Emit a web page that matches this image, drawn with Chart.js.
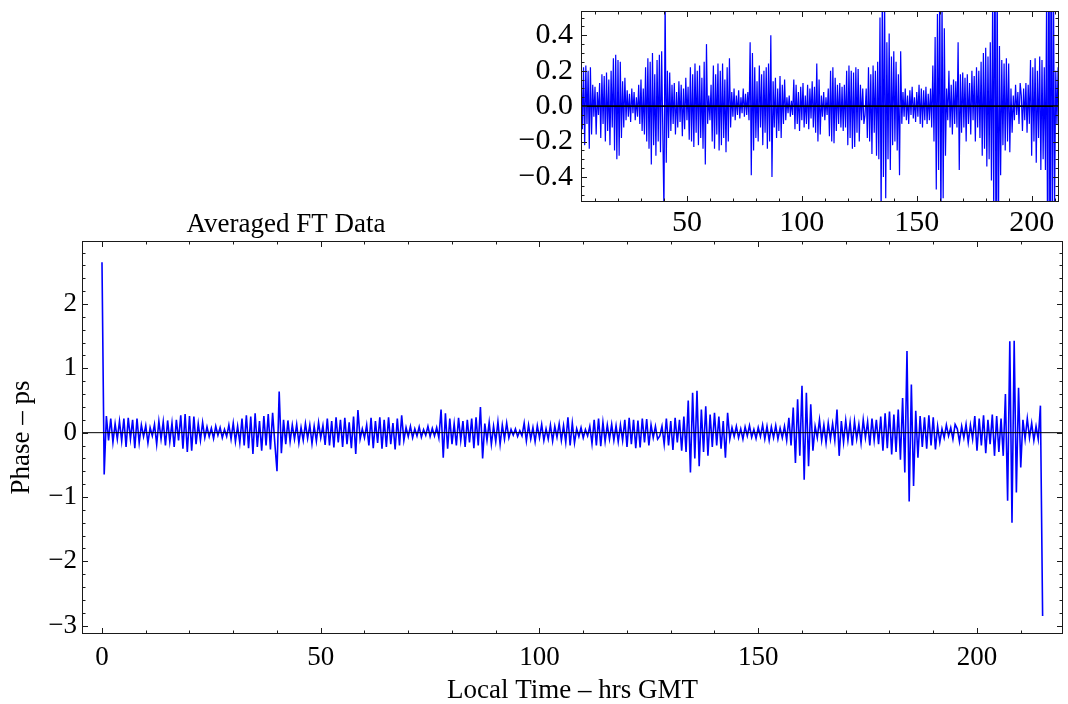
<!DOCTYPE html>
<html>
<head>
<meta charset="utf-8">
<script src="https://cdn.jsdelivr.net/npm/chart.js@4.4.1/dist/chart.umd.min.js"></script>
<style>
  html, body { margin: 0; padding: 0; background: #ffffff; width: 1068px; height: 704px; overflow: hidden; }
  #main  { position: absolute; left: 0; top: 0; }
  #inset { position: absolute; left: 480px; top: 0; }
</style>
</head>
<body>
<canvas id="main" width="1068" height="704"></canvas>
<canvas id="inset" width="588" height="240"></canvas>
<script>
// ---- Data: averaged FT phase (ps), sampled every half hour from hour 0 ----
const startHour = 0;
const stepHours = 0.5;

const phaseDay1 = [
  2.65,-0.65, 0.26,-0.12, 0.22,-0.15, 0.14,-0.10, 0.18,-0.13, 0.22,-0.22,
  0.23,-0.10, 0.20,-0.24, 0.22,-0.16, 0.12,-0.06, 0.11,-0.16, 0.08,-0.05,
  0.13,-0.18, 0.18,-0.10, 0.17,-0.20, 0.19,-0.14, 0.15,-0.22, 0.20,-0.12,
  0.27,-0.25, 0.29,-0.30, 0.26,-0.28, 0.25,-0.18, 0.14,-0.12, 0.16,-0.08
];
const phaseDay2 = [
  0.09,-0.06, 0.07,-0.09, 0.10,-0.04, 0.08,-0.08, 0.05,-0.06, 0.12,-0.10,
  0.15,-0.14, 0.10,-0.16, 0.22,-0.20, 0.27,-0.24, 0.25,-0.33, 0.30,-0.22,
  0.18,-0.28, 0.26,-0.20, 0.29,-0.26, 0.31,-0.16, -0.60,0.64, -0.32,0.20,
  -0.18,0.19, -0.14,0.12, -0.10,0.13, -0.16,0.08, -0.12,0.14, -0.09,0.12
];
const phaseDay3 = [
  -0.17,0.10, -0.13,0.16, -0.08,0.11, -0.19,0.22, -0.20,0.18, -0.23,0.24,
  -0.15,0.20, -0.22,0.23, -0.18,0.16, -0.24,0.25, -0.33,0.35, -0.10,0.06,
  -0.08,0.12, -0.20,0.23, -0.24,0.18, -0.16,0.24, -0.25,0.20, -0.22,0.24,
  -0.18,0.15, -0.26,0.22, -0.20,0.27, -0.12,0.08, -0.06,0.10, -0.08,0.06
];
const phaseDay4 = [
  -0.05,0.09, -0.07,0.05, -0.04,0.10, -0.06,0.07, -0.05,0.08, -0.08,0.36,
  -0.39,0.30, -0.25,0.22, -0.18,0.14, -0.20,0.23, -0.12,0.18, -0.22,0.20,
  -0.15,0.22, -0.24,0.24, -0.20,0.40, -0.40,0.14, -0.12,0.16, -0.18,0.10,
  -0.14,0.17, -0.18,0.12, -0.10,0.15, -0.08,0.05, -0.04,0.06, -0.06,0.03
];
const phaseDay5 = [
  -0.05,0.15, -0.13,0.12, -0.10,0.08, -0.14,0.11, -0.08,0.13, -0.12,0.06,
  -0.10,0.12, -0.13,0.10, -0.07,0.14, -0.12,0.11, -0.15,0.24, -0.20,0.15,
  -0.16,0.06, -0.06,0.08, -0.08,0.05, -0.05,0.10, -0.17,0.20, -0.20,0.22,
  -0.21,0.16, -0.14,0.12, -0.10,0.13, -0.12,0.11, -0.14,0.12, -0.12,0.20
];
const phaseDay6 = [
  -0.22,0.23, -0.18,0.20, -0.24,0.19, -0.23,0.22, -0.15,0.21, -0.20,0.12,
  -0.08,0.10, -0.10,-0.05, 0.10,-0.18, 0.22,-0.20, 0.18,-0.27, 0.23,-0.15,
  0.20,-0.28, 0.25,-0.30, 0.50,-0.62, 0.62,-0.40, 0.65,-0.52, 0.36,-0.30,
  0.41,-0.36, 0.28,-0.22, 0.31,-0.20, 0.25,-0.25, 0.18,-0.39, 0.31,-0.10
];
const phaseDay7 = [
  0.08,-0.06, 0.10,-0.08, 0.06,-0.10, 0.09,-0.05, 0.11,-0.07, 0.05,-0.09,
  0.08,-0.06, 0.12,-0.10, 0.10,-0.12, 0.09,-0.08, 0.11,-0.10, 0.07,-0.08,
  0.10,-0.12, 0.23,-0.20, 0.39,-0.47, 0.52,-0.36, 0.73,-0.73, 0.62,-0.52,
  0.44,-0.28, 0.10,-0.08, 0.20,-0.12, 0.12,-0.16, 0.15,-0.10, 0.14,-0.12
];
const phaseDay8 = [
  0.36,-0.36, 0.18,-0.15, 0.19,-0.12, 0.16,-0.20, 0.18,-0.10, 0.13,-0.16,
  0.20,-0.08, 0.17,-0.20, 0.22,-0.12, 0.20,-0.18, 0.25,-0.28, 0.30,-0.24,
  0.33,-0.34, 0.28,-0.30, 0.36,-0.42, 0.54,-0.62, 1.27,-1.07, 0.75,-0.83,
  0.34,-0.39, 0.26,-0.22, 0.24,-0.25, 0.27,-0.20, 0.24,-0.26, 0.10,-0.15
];
const phaseDay9 = [
  0.06,-0.08, 0.12,-0.05, 0.08,-0.10, 0.13,0.06, -0.14,0.10, -0.08,0.13,
  -0.15,0.12, -0.10,0.26, -0.28,0.22, -0.20,0.27, -0.32,0.20, -0.18,0.28,
  -0.36,0.26, -0.30,0.22, -0.36,0.60, -1.06,1.42, -1.40,1.43, -0.93,0.70,
  -0.54,0.20, -0.10,0.22, -0.08,0.15, -0.12,0.10, -0.10,0.42, -2.85
];

// ---- Tick labels ----
const mainXTicks  = [0, 50, 100, 150, 200];
const mainYTicks  = [-3, -2, -1, 0, 1, 2];
const insetXTicks = [50, 100, 150, 200];
const insetYTicks = [-0.4, -0.2, 0, 0.2, 0.4];

const titleText  = 'Averaged FT Data';
const xTitleText = 'Local Time – hrs GMT';
const yTitleText = 'Phase – ps';

// ---- Build series ----
const phase = [].concat(phaseDay1, phaseDay2, phaseDay3, phaseDay4, phaseDay5,
                        phaseDay6, phaseDay7, phaseDay8, phaseDay9);
const points = phase.map((v, i) => ({ x: startHour + i * stepHours, y: v }));

function stepList(a, b, s) {
  const out = [];
  for (let v = a; v <= b + 1e-9; v += s) out.push(Math.round(v * 1000) / 1000);
  return out;
}
const minus = s => String(s).replace('-', '\u2212');
const SERIF = '"Liberation Serif", "Times New Roman", serif';
const noPad = s => { s.paddingTop = 0; s.paddingBottom = 0; s.paddingLeft = 0; s.paddingRight = 0; };

const frameTicks = {
  id: 'frameTicks',
  afterDatasetsDraw(chart, args, o) {
    const { ctx, chartArea: a } = chart;
    const xs = chart.scales.x, ys = chart.scales.y;
    ctx.save();
    // zero axis
    const y0 = ys.getPixelForValue(0);
    ctx.strokeStyle = '#000';
    ctx.lineWidth = o.zeroWidth;
    ctx.beginPath(); ctx.moveTo(a.left, y0); ctx.lineTo(a.right, y0); ctx.stroke();
    // frame
    ctx.strokeStyle = o.frameColor;
    ctx.lineWidth = 1;
    ctx.strokeRect(Math.round(a.left) + 0.5, Math.round(a.top) + 0.5,
                   Math.round(a.right - a.left) - 1, Math.round(a.bottom - a.top) - 1);
    ctx.beginPath();
    const tx = (v, len) => {
      const p = Math.round(xs.getPixelForValue(v)) + 0.5;
      if (p < a.left + 1 || p > a.right - 1) return;
      ctx.moveTo(p, a.bottom); ctx.lineTo(p, a.bottom - len);
      ctx.moveTo(p, a.top); ctx.lineTo(p, a.top + len);
    };
    const ty = (v, len) => {
      const p = Math.round(ys.getPixelForValue(v)) + 0.5;
      if (p < a.top + 1 || p > a.bottom - 1) return;
      ctx.moveTo(a.left, p); ctx.lineTo(a.left + len, p);
      ctx.moveTo(a.right, p); ctx.lineTo(a.right - len, p);
    };
    o.xMinor.forEach(v => tx(v, o.minorLen));
    o.xMajor.forEach(v => tx(v, o.majorLen));
    o.yMinor.forEach(v => ty(v, o.minorLen));
    o.yMajor.forEach(v => ty(v, o.majorLen));
    ctx.stroke();
    ctx.restore();
  }
};

const titlePlugin = {
  id: 'plotLabel',
  afterDraw(chart, args, o) {
    if (!o.text) return;
    const ctx = chart.ctx;
    ctx.save();
    ctx.fillStyle = '#000';
    ctx.font = o.size + 'px ' + SERIF;
    ctx.textAlign = 'center';
    ctx.textBaseline = 'middle';
    ctx.fillText(o.text, o.x, o.y);
    ctx.restore();
  }
};

// ---- Main chart ----
new Chart(document.getElementById('main'), {
  type: 'line',
  data: { datasets: [{
    data: points, borderColor: '#0000ff', borderWidth: 1.6,
    pointRadius: 0, tension: 0, fill: false
  }]},
  options: {
    responsive: false, animation: false, devicePixelRatio: 1,
    layout: { padding: { left: 0, right: 5, top: 241, bottom: 0 } },
    plugins: {
      legend: { display: false }, tooltip: { enabled: false },
      plotLabel: { text: titleText, x: 286, y: 225, size: 27 },
      frameTicks: {
        zeroWidth: 1, frameColor: '#1a1a1a', majorLen: 6, minorLen: 3.5,
        xMajor: mainXTicks, xMinor: stepList(0, 210, 10),
        yMajor: mainYTicks, yMinor: stepList(-3, 2.8, 0.2)
      }
    },
    scales: {
      x: {
        type: 'linear', position: 'bottom', min: -4.57, max: 219.66,
        afterBuildTicks: s => { s.ticks = mainXTicks.map(v => ({ value: v })); },
        afterFit: s => { s.height = 70; noPad(s); },
        grid: { display: false, drawTicks: false }, border: { display: false },
        ticks: { font: { family: SERIF, size: 27 }, color: '#000', padding: 8,
                 maxRotation: 0, autoSkip: false, callback: v => minus(v) },
        title: { display: true, text: xTitleText, color: '#000',
                 font: { family: SERIF, size: 27 }, padding: { top: 0, bottom: -3 } }
      },
      y: {
        type: 'linear', position: 'left', min: -3.13, max: 2.98,
        afterBuildTicks: s => { s.ticks = mainYTicks.map(v => ({ value: v })); },
        afterFit: s => { s.width = 82; noPad(s); },
        grid: { display: false, drawTicks: false }, border: { display: false },
        ticks: { font: { family: SERIF, size: 27 }, color: '#000', padding: 5,
                 autoSkip: false, callback: v => minus(v) },
        title: { display: true, text: yTitleText, color: '#000',
                 font: { family: SERIF, size: 27 }, padding: { top: 6, bottom: 0 } }
      }
    }
  },
  plugins: [frameTicks, titlePlugin]
});

// ---- Inset chart (same data, zoomed vertically) ----
new Chart(document.getElementById('inset'), {
  type: 'line',
  data: { datasets: [{
    data: points, borderColor: '#0000ff', borderWidth: 1.2,
    pointRadius: 0, tension: 0, fill: false
  }]},
  options: {
    responsive: false, animation: false, devicePixelRatio: 1,
    layout: { padding: { left: 0, right: 9, top: 11, bottom: 0 } },
    plugins: {
      legend: { display: false }, tooltip: { enabled: false },
      frameTicks: {
        zeroWidth: 1.6, frameColor: '#1a1a1a', majorLen: 6, minorLen: 3.5,
        xMajor: insetXTicks, xMinor: stepList(10, 210, 10),
        yMajor: insetYTicks, yMinor: stepList(-0.5, 0.5, 0.05)
      }
    },
    scales: {
      x: {
        type: 'linear', position: 'bottom', min: 3.9, max: 211.9,
        afterBuildTicks: s => { s.ticks = insetXTicks.map(v => ({ value: v })); },
        afterFit: s => { s.height = 38; noPad(s); },
        grid: { display: false, drawTicks: false }, border: { display: false },
        ticks: { font: { family: SERIF, size: 30 }, color: '#000', padding: 3,
                 maxRotation: 0, autoSkip: false, callback: v => minus(v) }
      },
      y: {
        type: 'linear', position: 'left', min: -0.541, max: 0.537,
        afterBuildTicks: s => { s.ticks = insetYTicks.map(v => ({ value: v })); },
        afterFit: s => { s.width = 101; noPad(s); },
        grid: { display: false, drawTicks: false }, border: { display: false },
        ticks: { font: { family: SERIF, size: 30 }, color: '#000', padding: 8,
                 autoSkip: false, callback: v => minus(Number(v).toFixed(1)) }
      }
    }
  },
  plugins: [frameTicks]
});
</script>
</body>
</html>
